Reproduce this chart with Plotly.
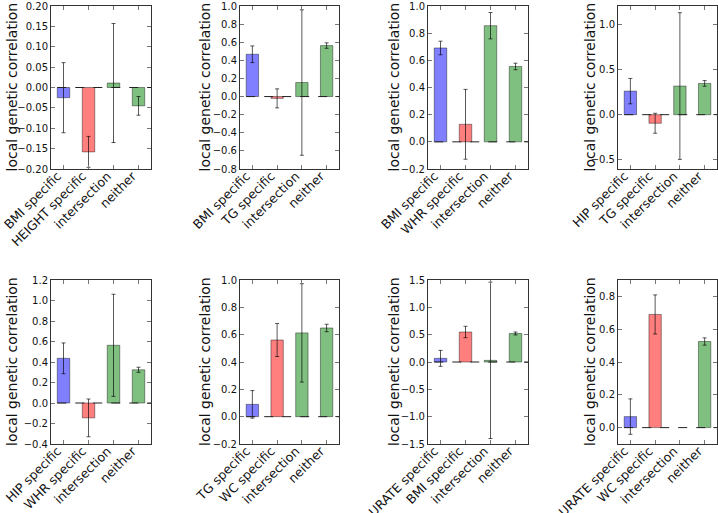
import plotly.graph_objects as go

# ---------------- data ----------------
panel_labels = [
    ["BMI specific", "HEIGHT specific", "intersection", "neither"],
    ["BMI specific", "TG specific", "intersection", "neither"],
    ["BMI specific", "WHR specific", "intersection", "neither"],
    ["HIP specific", "TG specific", "intersection", "neither"],
    ["HIP specific", "WHR specific", "intersection", "neither"],
    ["TG specific", "WC specific", "intersection", "neither"],
    ["URATE specific", "BMI specific", "intersection", "neither"],
    ["URATE specific", "WC specific", "intersection", "neither"],
]
panel_values = [
    [-0.025, -0.158, 0.011, -0.045],
    [0.467, -0.020, 0.155, 0.563],
    [0.691, 0.129, 0.855, 0.555],
    [0.260, -0.095, 0.316, 0.345],
    [0.436, -0.145, 0.563, 0.324],
    [0.090, 0.561, 0.613, 0.649],
    [0.067, 0.549, 0.030, 0.522],
    [0.067, 0.690, None, 0.525],
]
panel_errors = [
    [0.086, 0.038, 0.146, 0.023],
    [0.092, 0.105, 0.803, 0.030],
    [0.050, 0.257, 0.097, 0.024],
    [0.140, 0.110, 0.810, 0.031],
    [0.150, 0.184, 0.498, 0.025],
    [0.101, 0.121, 0.360, 0.027],
    [0.146, 0.104, 1.430, 0.027],
    [0.108, 0.119, None, 0.022],
]
y_ranges = [[-0.2, 0.2], [-0.8, 1.0], [-0.2, 1.0], [-0.6, 1.2],
            [-0.4, 1.2], [-0.2, 1.0], [-1.5, 1.5], [-0.1, 0.9]]
y_dticks = [0.05, 0.2, 0.2, 0.5, 0.2, 0.2, 0.5, 0.2]
y_formats = [".2f", ".1f", ".1f", ".1f", ".1f", ".1f", ".1f", ".1f"]
y_title = "local genetic correlation"

# ---------------- style / layout ----------------
W, H = 718, 513
bar_colors = ["rgb(127,127,255)", "rgb(255,127,127)", "rgb(127,191,127)", "rgb(127,191,127)"]
col_px = [(51, 151), (240, 339), (428, 528), (618, 717)]
row_px = [(6, 169), (280, 444)]
title_x_px = [12, 205, 394, 590]
font_family = "DejaVu Sans"

fig = go.Figure()
annotations = []
shapes = []

for i in range(8):
    r, c = divmod(i, 4)
    n = i + 1
    xa = "x" if n == 1 else f"x{n}"
    ya = "y" if n == 1 else f"y{n}"
    xpos = list(range(len(panel_labels[i])))

    fig.add_trace(go.Bar(
        x=xpos, y=panel_values[i], width=0.5,
        marker=dict(color=bar_colors, line=dict(color="rgba(0,0,0,0.4)", width=1)),
        error_y=dict(type="data", array=panel_errors[i], visible=True,
                     color="rgba(0,0,0,0.65)", thickness=1, width=2),
        xaxis=xa, yaxis=ya, showlegend=False,
    ))

    x0, x1 = col_px[c]
    y0, y1 = row_px[r]
    axis_common = dict(showline=True, linecolor="#333", linewidth=1, mirror="ticks",
                       ticks="inside", ticklen=4, tickcolor="#777",
                       showgrid=False, zeroline=False, automargin=False)
    fig.layout[f"xaxis{'' if n == 1 else n}"] = dict(
        domain=[x0 / W, x1 / W], anchor=ya, range=[-0.5, 3.5],
        tickmode="array", tickvals=xpos, ticktext=panel_labels[i], tickangle=-45,
        ticklabelshift=-6, ticklabelstandoff=-6,
        tickfont=dict(size=12.5, color="#111", family=font_family), **axis_common)
    fig.layout[f"yaxis{'' if n == 1 else n}"] = dict(
        domain=[1 - y1 / H, 1 - y0 / H], anchor=xa, range=y_ranges[i],
        tick0=0, dtick=y_dticks[i], tickformat=y_formats[i],
        tickfont=dict(size=10, color="#111", family=font_family), **axis_common)

    shapes.append(dict(type="line", xref=xa, yref=ya, x0=-0.25, x1=3.5, y0=0, y1=0,
                       line=dict(color="#222", width=1, dash="dash")))
    annotations.append(dict(text=y_title, textangle=-90, showarrow=False,
                            xref="paper", yref="paper",
                            x=title_x_px[c] / W, y=1 - ((y0 + y1) / 2) / H,
                            xanchor="center", yanchor="middle",
                            font=dict(size=14, color="#111", family=font_family)))

fig.update_layout(width=W, height=H, margin=dict(l=0, r=0, t=0, b=0),
                  template="none",
                  paper_bgcolor="white", plot_bgcolor="white",
                  shapes=shapes, annotations=annotations,
                  font=dict(family=font_family))
fig.write_html("out.html", config={"displayModeBar": False},
               post_script="document.body.style.margin='0px';document.body.style.overflow='hidden';")
